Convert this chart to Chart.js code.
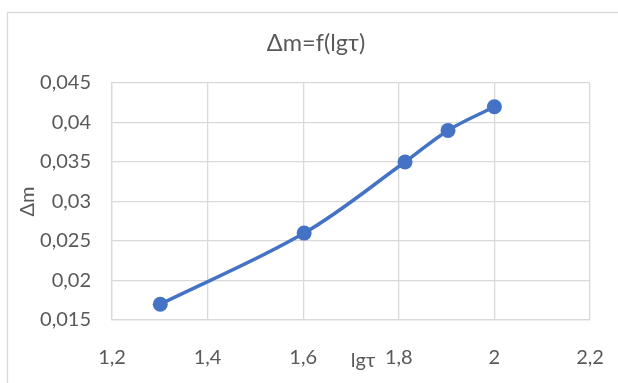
<!DOCTYPE html>
<html>
<head>
<meta charset="utf-8">
<script src="https://cdn.jsdelivr.net/npm/chart.js@4.4.1/dist/chart.umd.min.js"></script>
<style>
  html, body { margin: 0; padding: 0; background: #ffffff; }
  #wrap { position: relative; width: 618px; height: 383px; }
</style>
</head>
<body>
<div id="wrap"><canvas id="c" width="618" height="383"></canvas></div>
<script>
// lg of the holding time and the mass change measured at each point
const lgTau = [1.301, 1.602, 1.813, 1.903, 2.0];
const deltaM = [0.017, 0.026, 0.035, 0.039, 0.042];

const xTicks = [1.2, 1.4, 1.6, 1.8, 2.0, 2.2];
const yTicks = [0.015, 0.02, 0.025, 0.03, 0.035, 0.04, 0.045];

const chartTitle = 'Δm=f(lgτ)';
const xTitle = 'lgτ';
const yTitle = 'Δm';

const FONT = 'Lato, "Open Sans", sans-serif';
const TEXT = '#595959';
const GRID = '#d9d9d9';
const BLUE = '#4472C4';

// comma as decimal separator
const fmt = (v, digits) => {
  const r = Math.round(v * Math.pow(10, digits)) / Math.pow(10, digits);
  return String(r).replace('.', ',');
};

// frame of the chart object, chart title and horizontal axis title
const decorPlugin = {
  id: 'decor',
  beforeDraw(chart) {
    const ctx = chart.ctx;
    ctx.save();
    ctx.fillStyle = '#ffffff';
    ctx.fillRect(0, 0, chart.width, chart.height);
    ctx.strokeStyle = GRID;
    ctx.lineWidth = 1.3;
    ctx.beginPath();
    ctx.moveTo(7.5, chart.height);
    ctx.lineTo(7.5, 12.5);
    ctx.lineTo(chart.width, 12.5);
    ctx.stroke();
    ctx.restore();
  },
  afterDraw(chart) {
    const ctx = chart.ctx;
    ctx.save();
    ctx.fillStyle = TEXT;
    ctx.textAlign = 'center';
    ctx.textBaseline = 'alphabetic';
    ctx.font = '23.5px ' + FONT;
    ctx.fillText(chartTitle, 316, 51);
    ctx.font = '20px ' + FONT;
    ctx.fillText(xTitle, 363, 367);
    ctx.restore();
  }
};

new Chart(document.getElementById('c'), {
  type: 'scatter',
  data: {
    datasets: [{
      data: lgTau.map((x, i) => ({ x: x, y: deltaM[i] })),
      showLine: true,
      borderColor: BLUE,
      backgroundColor: BLUE,
      borderWidth: 3.5,
      tension: 0.35,
      pointRadius: 7.5,
      pointHoverRadius: 7.5,
      pointBorderWidth: 0,
      clip: false
    }]
  },
  options: {
    responsive: false,
    animation: false,
    devicePixelRatio: 1,
    layout: { padding: { left: 0, right: 28, top: 83, bottom: 0 } },
    plugins: {
      legend: { display: false },
      tooltip: { enabled: false },
      title: { display: false }
    },
    scales: {
      x: {
        type: 'linear',
        min: 1.2,
        max: 2.2,
        afterFit(scale) {
          scale.height = 63;
          scale.paddingLeft = 0;
          scale.paddingRight = 0;
        },
        afterBuildTicks(scale) { scale.ticks = xTicks.map(v => ({ value: v })); },
        ticks: {
          color: TEXT,
          font: { family: FONT, size: 20 },
          padding: 26,
          callback: v => fmt(v, 1)
        },
        grid: { color: GRID, lineWidth: 1.3, drawTicks: false },
        border: { color: GRID, width: 1.3 }
      },
      y: {
        type: 'linear',
        min: 0.015,
        max: 0.045,
        afterFit(scale) {
          scale.width = 112;
          scale.paddingTop = 0;
          scale.paddingBottom = 0;
        },
        afterBuildTicks(scale) { scale.ticks = yTicks.map(v => ({ value: v })); },
        ticks: {
          color: TEXT,
          font: { family: FONT, size: 20 },
          padding: 21,
          callback: v => fmt(v, 3)
        },
        grid: { color: GRID, lineWidth: 1.3, drawTicks: false },
        border: { color: GRID, width: 1.3 },
        title: {
          display: true,
          text: yTitle,
          color: TEXT,
          font: { family: FONT, size: 20 },
          padding: { top: 16, bottom: 0 }
        }
      }
    }
  },
  plugins: [decorPlugin]
});
</script>
</body>
</html>
